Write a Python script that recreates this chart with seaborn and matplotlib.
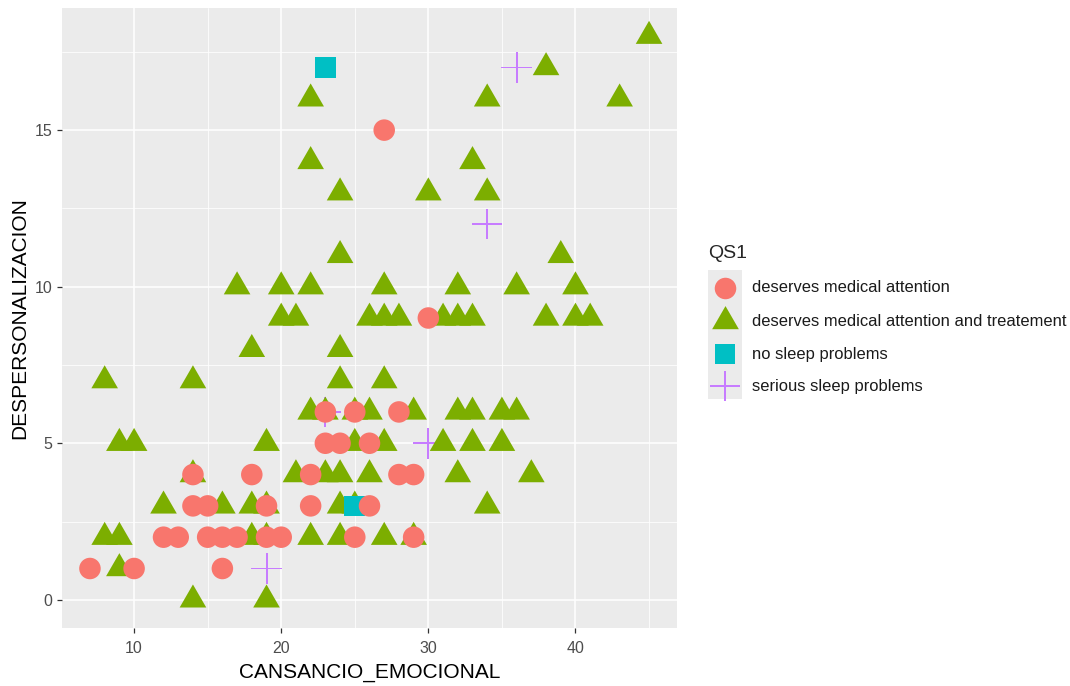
import numpy as np
import pandas as pd
import matplotlib
matplotlib.use("Agg")
import matplotlib.pyplot as plt
from matplotlib.lines import Line2D
from matplotlib.patches import Rectangle
import seaborn as sns

# ---- data -------------------------------------------------------------
groups = ["deserves medical attention",
          "deserves medical attention and treatement",
          "no sleep problems",
          "serious sleep problems"]

att_x = [27, 30, 23, 25, 28, 23, 24, 26, 14, 18, 22, 28, 29, 14, 15, 19, 22, 26,
         12, 13, 15, 16, 17, 19, 20, 25, 29, 7, 10, 16]
att_y = [15, 9, 6, 6, 6, 5, 5, 5, 4, 4, 4, 4, 4, 3, 3, 3, 3, 3,
         2, 2, 2, 2, 2, 2, 2, 2, 2, 1, 1, 1]

treat_x = [45, 38, 22, 34, 43, 22, 33, 24, 30, 34, 24, 39,
           17, 20, 22, 27, 32, 36, 40,
           20, 21, 26, 27, 28, 31, 32, 33, 38, 40, 41,
           18, 24, 8, 14, 24, 27,
           22, 23, 25, 26, 29, 32, 33, 35, 36,
           9, 10, 19, 25, 27, 31, 33, 35,
           14, 21, 23, 24, 26, 32, 37,
           12, 16, 18, 19, 24, 25, 34,
           8, 9, 18, 19, 22, 24, 27, 29,
           9, 14, 19]
treat_y = [18, 17, 16, 16, 16, 14, 14, 13, 13, 13, 11, 11,
           10, 10, 10, 10, 10, 10, 10,
           9, 9, 9, 9, 9, 9, 9, 9, 9, 9, 9,
           8, 8, 7, 7, 7, 7,
           6, 6, 6, 6, 6, 6, 6, 6, 6,
           5, 5, 5, 5, 5, 5, 5, 5,
           4, 4, 4, 4, 4, 4, 4,
           3, 3, 3, 3, 3, 3, 3,
           2, 2, 2, 2, 2, 2, 2, 2,
           1, 0, 0]

nosleep_x = [23, 25]
nosleep_y = [17, 3]

serious_x = [36, 34, 30, 23, 19]
serious_y = [17, 12, 5, 6, 1]

# drawing order: crosses underneath, then triangles, squares, circles on top
df = pd.concat([
    pd.DataFrame({"CANSANCIO_EMOCIONAL": serious_x, "DESPERSONALIZACION": serious_y, "QS1": groups[3]}),
    pd.DataFrame({"CANSANCIO_EMOCIONAL": treat_x, "DESPERSONALIZACION": treat_y, "QS1": groups[1]}),
    pd.DataFrame({"CANSANCIO_EMOCIONAL": nosleep_x, "DESPERSONALIZACION": nosleep_y, "QS1": groups[2]}),
    pd.DataFrame({"CANSANCIO_EMOCIONAL": att_x, "DESPERSONALIZACION": att_y, "QS1": groups[0]}),
], ignore_index=True)

# ---- marker shapes ----------------------------------------------------
colors = ["#F8766D", "#7CAE00", "#00BFC4", "#C77CFF"]
# equilateral triangle centred on its centroid
tri = [(0.0, 1.0), (-0.866, -0.5), (0.866, -0.5)]
# thin filled plus sign
t = 0.065
plus = [(t, 1), (t, t), (1, t), (1, -t), (t, -t), (t, -1), (-t, -1), (-t, -t),
        (-1, -t), (-1, t), (-t, t), (-t, 1)]
markers = {groups[0]: "o", groups[1]: tri, groups[2]: "s", groups[3]: plus}
sizes = {groups[0]: 240, groups[1]: 490, groups[2]: 222, groups[3]: 484}
palette = dict(zip(groups, colors))

sns.set_theme(style="darkgrid")
plt.rcParams["font.family"] = ["Liberation Sans", "DejaVu Sans"]

fig = plt.figure(figsize=(10.7, 6.86), dpi=100)
ax = fig.add_axes([62 / 1070, 1 - 628 / 686, (677 - 62) / 1070, (628 - 8) / 686])
ax.set_facecolor("#EBEBEB")

sns.scatterplot(data=df, x="CANSANCIO_EMOCIONAL", y="DESPERSONALIZACION",
                hue="QS1", style="QS1", size="QS1",
                hue_order=groups, style_order=groups, size_order=groups,
                palette=palette, markers=markers, sizes=sizes,
                linewidth=0, alpha=1, legend=False, ax=ax, zorder=3)

ax.set_xlim(5.1, 46.9)
ax.set_ylim(-0.9, 18.9)
ax.set_xticks([10, 20, 30, 40])
ax.set_yticks([0, 5, 10, 15])
ax.set_xticks([15, 25, 35, 45], minor=True)
ax.set_yticks([2.5, 7.5, 12.5, 17.5], minor=True)
ax.grid(which="major", color="white", linewidth=1.1)
ax.grid(which="minor", color="white", linewidth=0.55)
ax.set_axisbelow(True)
for s in ax.spines.values():
    s.set_visible(False)
ax.tick_params(which="major", length=3.5, width=0.9, color="#333333",
               labelcolor="#4D4D4D", labelsize=11.5, bottom=True, left=True)
ax.tick_params(axis="x", which="major", pad=6)
ax.tick_params(axis="y", which="major", pad=3.5)
ax.tick_params(which="minor", length=0, bottom=False, left=False)
ax.set_xlabel("CANSANCIO_EMOCIONAL", fontsize=15, color="black", labelpad=5)
ax.set_ylabel("DESPERSONALIZACION", fontsize=15, color="black", labelpad=4)

# ---- legend -----------------------------------------------------------
W, H = 1070, 686
fig.add_artist(Rectangle((708 / W, 1 - 399 / H), 34 / W, 129 / H,
                         transform=fig.transFigure, facecolor="#EBEBEB",
                         edgecolor="none", zorder=-1))
fig.text(708 / W, 1 - 253 / H, "QS1", fontsize=14, va="center", ha="left")
rows = [288, 321, 354, 386]
msize = [15.5, 22.2, 14.9, 22]
for g, c, ry, ms in zip(groups, colors, rows, msize):
    fig.add_artist(Line2D([725 / W], [1 - ry / H], transform=fig.transFigure,
                          marker=markers[g], markersize=ms, linestyle="none",
                          color=c, markerfacecolor=c, markeredgewidth=0,
                          fillstyle="full"))
    fig.text(752 / W, 1 - ry / H, g, fontsize=11.9, va="center", ha="left",
             color="#1A1A1A")

fig.savefig("out.png", dpi=100)
